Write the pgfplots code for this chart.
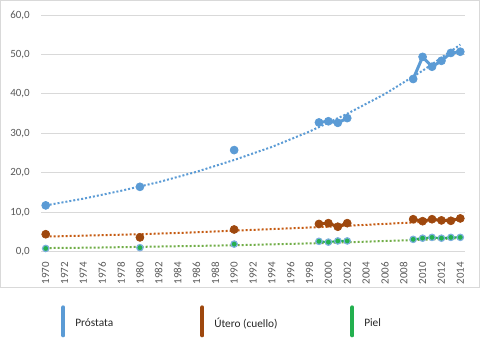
\documentclass[border=0pt]{standalone}
\usepackage{fontspec}
\setmainfont{Carlito}
\usepackage{pgfplots}
\pgfplotsset{compat=1.18}
\definecolor{cP}{HTML}{5B9BD5}
\definecolor{cU}{HTML}{9E480E}
\definecolor{cG}{HTML}{23B04F}
\definecolor{tU}{HTML}{C55A11}
\definecolor{tG}{HTML}{70AD47}
\definecolor{gridc}{HTML}{D9D9D9}
\definecolor{lab}{HTML}{595959}
\definecolor{legtext}{HTML}{262626}
\begin{document}
\begin{tikzpicture}
\draw[gridc, line width=0.75pt] (0.375pt,52.5pt) rectangle (359.6pt,268.1pt);
\begin{axis}[
  at={(30.75pt,79.5pt)}, anchor=south west,
  scale only axis, width=318pt, height=177.75pt,
  xmin=1969.5, xmax=2014.5, ymin=0, ymax=60,
  axis line style={draw=none},
  unbounded coords=jump,
  ytick={0,10,...,60}, xtick={1970,1972,...,2014},
  major tick length=0pt,
  ymajorgrids, grid style={gridc, line width=0.75pt},
  /pgf/number format/assume math mode=true,
  tick label style={font=\fontsize{8.25}{10}\selectfont, text=lab, inner sep=0pt},
  yticklabel style={anchor=east, xshift=-8.25pt, /pgf/number format/.cd, fixed, fixed zerofill, precision=1, use comma},
  xticklabel style={yshift=-7.5pt, rotate=90, anchor=east, /pgf/number format/.cd, 1000 sep={}},
  legend style={at={(0.04717,-0.2996)}, anchor=west, draw=none, fill=none, inner sep=0pt,
    nodes={inner sep=0pt, font=\fontsize{8.5}{10}\selectfont, text=legtext},
    /tikz/column sep=0pt},
  legend columns=3,
  legend image code/.code={\path[draw=none, fill=none] (0pt,-13pt) rectangle (10.5pt,13pt);
     \draw[line width=3pt, line cap=round, solid] (1.5pt,-9pt) -- (1.5pt,12pt);},
]
% trend lines
\addplot[cP, line width=1.5pt, dash pattern=on 1.5pt off 1.5pt, forget plot] coordinates {
(1970,11.8) (1974,13.5) (1978,15.5) (1982,17.7) (1986,20.3) (1990,23.3)
(1994,26.6) (1998,30.5) (2002,35.0) (2006,40.0) (2010,45.9) (2014,52.5)};
\addplot[tU, line width=1.5pt, dash pattern=on 1.5pt off 1.5pt, forget plot] coordinates {
(1970,3.9) (1975,4.2) (1980,4.5) (1985,4.9) (1990,5.4) (1995,5.9) (2000,6.4) (2005,7.0) (2010,7.6) (2014,8.5)};
\addplot[tG, line width=1.5pt, dash pattern=on 1.5pt off 1.5pt, forget plot] coordinates {
(1970,1.0) (1975,1.1) (1980,1.3) (1985,1.5) (1990,1.7) (1995,2.0) (2000,2.3) (2005,2.7) (2010,3.1) (2014,3.5)};
% series
\addplot[cP, line width=2.25pt, mark=*, mark size=3pt, mark options={solid, line width=0.5pt}] coordinates {
(1970,11.8) (1975,nan) (1980,16.5) (1985,nan) (1990,25.8) (1995,nan)
(1999,32.8) (2000,33.1) (2001,32.7) (2002,33.9) (2005,nan)
(2009,43.8) (2010,49.4) (2011,46.9) (2012,48.4) (2013,50.4) (2014,50.7)};
\addlegendentry{\makebox[93.75pt][l]{Próstata}}
\addplot[cU, line width=2.25pt, mark=*, mark size=3pt, mark options={solid, line width=0.5pt}] coordinates {
(1970,4.5) (1975,nan) (1980,3.7) (1985,nan) (1990,5.7) (1995,nan)
(1999,7.1) (2000,7.3) (2001,6.4) (2002,7.3) (2005,nan)
(2009,8.3) (2010,7.8) (2011,8.3) (2012,8.0) (2013,7.9) (2014,8.5)};
\addlegendentry{\makebox[102pt][l]{Útero (cuello)}}
\addplot[cG, line width=1.5pt, mark=*, mark size=2.4pt, mark options={solid, line width=0.9pt, draw=cP!80!white, fill=cG}] coordinates {
(1970,0.9) (1975,nan) (1980,1.1) (1985,nan) (1990,2.0) (1995,nan)
(1999,2.7) (2000,2.5) (2001,2.8) (2002,2.8) (2005,nan)
(2009,3.2) (2010,3.5) (2011,3.7) (2012,3.5) (2013,3.7) (2014,3.7)};
\addlegendentry{\makebox[20pt][l]{Piel}}
\end{axis}
\pgfresetboundingbox
\path (0,0) rectangle (360pt,268.5pt);
\end{tikzpicture}
\end{document}
